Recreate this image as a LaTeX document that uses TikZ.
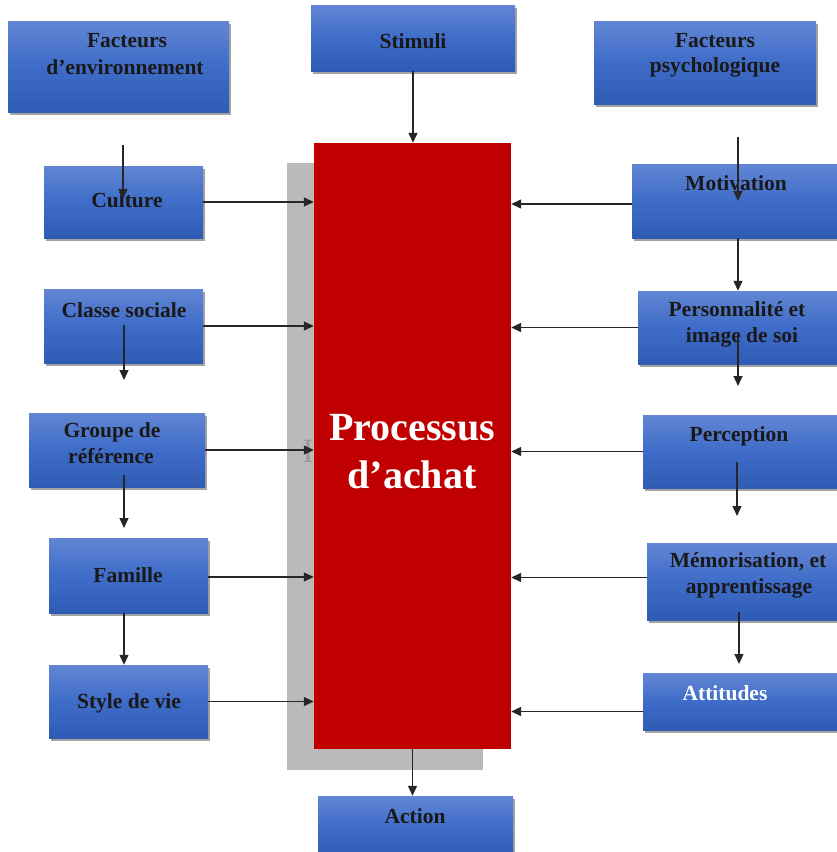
\documentclass[tikz,border=0pt]{standalone}
\usepackage{fontspec}
\setmainfont{Liberation Serif}
\usetikzlibrary{arrows.meta,shadows}
\definecolor{boxtop}{RGB}{98,134,212}
\definecolor{boxmid}{RGB}{62,108,200}
\definecolor{boxbot}{RGB}{46,92,180}
\definecolor{procred}{RGB}{192,0,0}
\definecolor{backgray}{RGB}{186,186,186}
\tikzset{
  bbox/.style={rectangle, inner sep=0pt, draw=none,
    top color=boxtop, bottom color=boxbot, middle color=boxmid,
    drop shadow={shadow xshift=2pt, shadow yshift=-2.5pt, fill=black!45, opacity=.8}},
  lbl/.style={anchor=base, inner sep=0pt, font=\fontsize{21.5}{25}\selectfont\bfseries, text=black!90},
  wlbl/.style={lbl, text=white},
  big/.style={anchor=base, inner sep=0pt, font=\fontsize{40}{48}\selectfont\bfseries, text=white},
  arr/.style={draw=black!85, line width=1.3pt, -{Triangle[length=10pt,width=9pt]}},
}
\begin{document}
\begin{tikzpicture}[x=1pt,y=-1pt]
\useasboundingbox (0,0) rectangle (837,852);
\clip (0,0) rectangle (837,852);
\fill[white] (0,0) rectangle (837,852);

% central block with its grey backing
\node[rectangle, fill=backgray, minimum width=196pt, minimum height=607pt, inner sep=0pt] (back) at (385,466.5) {};
\node[rectangle, fill=procred, minimum width=197pt, minimum height=606pt, inner sep=0pt] (red) at (412.5,446) {};
\node[anchor=base, inner sep=0pt, font=\fontsize{34}{34}\selectfont, text=black!40] (cursor) at (308,462) {I};
\node[big] (pt1) at (412,440) {Processus};
\node[big] (pt2) at (412,488) {d’achat};

% top row
\node[bbox, minimum width=221pt, minimum height=91pt] (env) at (118.5,66.5) {};
\node[bbox, minimum width=204pt, minimum height=66pt] (stim) at (413,38) {};
\node[bbox, minimum width=222pt, minimum height=83pt] (psy) at (705,62.5) {};
\node[bbox, minimum width=195pt, minimum height=62pt] (act) at (415.5,827) {};

% left column
\node[bbox, minimum width=159pt, minimum height=72pt] (cult) at (123.5,202) {};
\node[bbox, minimum width=159pt, minimum height=74pt] (clas) at (123.5,326) {};
\node[bbox, minimum width=176pt, minimum height=74pt] (grp) at (117,450) {};
\node[bbox, minimum width=159pt, minimum height=75pt] (fam) at (128.5,575.5) {};
\node[bbox, minimum width=159pt, minimum height=73pt] (sty) at (128.5,701.5) {};

% right column
\node[bbox, minimum width=218pt, minimum height=74pt] (mot) at (741,201) {};
\node[bbox, minimum width=212pt, minimum height=73pt] (pers) at (744,327.5) {};
\node[bbox, minimum width=207pt, minimum height=73pt] (perc) at (746.5,451.5) {};
\node[bbox, minimum width=203pt, minimum height=77pt] (memo) at (748.5,581.5) {};
\node[bbox, minimum width=207pt, minimum height=57pt] (att) at (746.5,701.5) {};

% labels
\node[lbl] (envt1) at (127,47) {Facteurs};
\node[lbl] (envt2) at (125,74) {d’environnement};
\node[lbl] (stimt) at (413,48) {Stimuli};
\node[lbl] (psyt1) at (715,47) {Facteurs};
\node[lbl] (psyt2) at (715,72) {psychologique};
\node[lbl] (actt) at (415,823) {Action};
\node[lbl] (cultt) at (127,207) {Culture};
\node[lbl] (clast) at (124,317) {Classe sociale};
\node[lbl] (grpt1) at (112,437) {Groupe de};
\node[lbl] (grpt2) at (111,463) {référence};
\node[lbl] (famt) at (128,582) {Famille};
\node[lbl] (styt) at (129,708) {Style de vie};
\node[lbl] (mott) at (736,190) {Motivation};
\node[lbl] (perst1) at (737,316) {Personnalité et};
\node[lbl] (perst2) at (742,342) {image de soi};
\node[lbl] (perct) at (739,441) {Perception};
\node[lbl] (memot1) at (748,567) {Mémorisation, et};
\node[lbl] (memot2) at (749,593) {apprentissage};
\node[wlbl] (attt) at (725,700) {Attitudes};

% free ends of the short vertical links
\coordinate (envtail) at (123,145);
\coordinate (envhead) at (123,199);
\coordinate (clastail) at (124,325);
\coordinate (clashead) at (124,380);
\coordinate (grptail) at (124,475);
\coordinate (grphead) at (124,528);
\coordinate (famx) at (124,0);
\coordinate (psytail) at (738,137);
\coordinate (psyhead) at (738,201);
\coordinate (motx) at (738,0);
\coordinate (perstail) at (738,333);
\coordinate (pershead) at (738,386);
\coordinate (perctail) at (737,462);
\coordinate (perchead) at (737,516);
\coordinate (memotail) at (739,612);
\coordinate (memohead) at (739,664);

% vertical links
\draw[arr] (envtail) -- (envhead);
\draw[arr] (stim.south) -- (stim.south |- red.north);
\draw[arr] (clastail) -- (clashead);
\draw[arr] (grptail) -- (grphead);
\draw[arr] (fam.south -| famx) -- (sty.north -| famx);
\draw[arr] (psytail) -- (psyhead);
\draw[arr] (mot.south -| motx) -- (pers.north -| motx);
\draw[arr] (perstail) -- (pershead);
\draw[arr] (perctail) -- (perchead);
\draw[arr] (memotail) -- (memohead);
\draw[arr] (red.south) -- (red.south |- act.north);

% links into the central block
\draw[arr] (cult.east) -- (cult.east -| red.west);
\draw[arr] (clas.east) -- (clas.east -| red.west);
\draw[arr] (grp.east) -- (grp.east -| red.west);
\draw[arr] ([yshift=-1.5pt]fam.east) -- ([yshift=-1.5pt]fam.east -| red.west);
\draw[arr] (sty.east) -- (sty.east -| red.west);
\draw[arr] ([yshift=-3pt]mot.west) -- ([yshift=-3pt]mot.west -| red.east);
\draw[arr] (pers.west) -- (pers.west -| red.east);
\draw[arr] (perc.west) -- (perc.west -| red.east);
\draw[arr] ([yshift=4pt]memo.west) -- ([yshift=4pt]memo.west -| red.east);
\draw[arr] ([yshift=-10pt]att.west) -- ([yshift=-10pt]att.west -| red.east);
\end{tikzpicture}
\end{document}
